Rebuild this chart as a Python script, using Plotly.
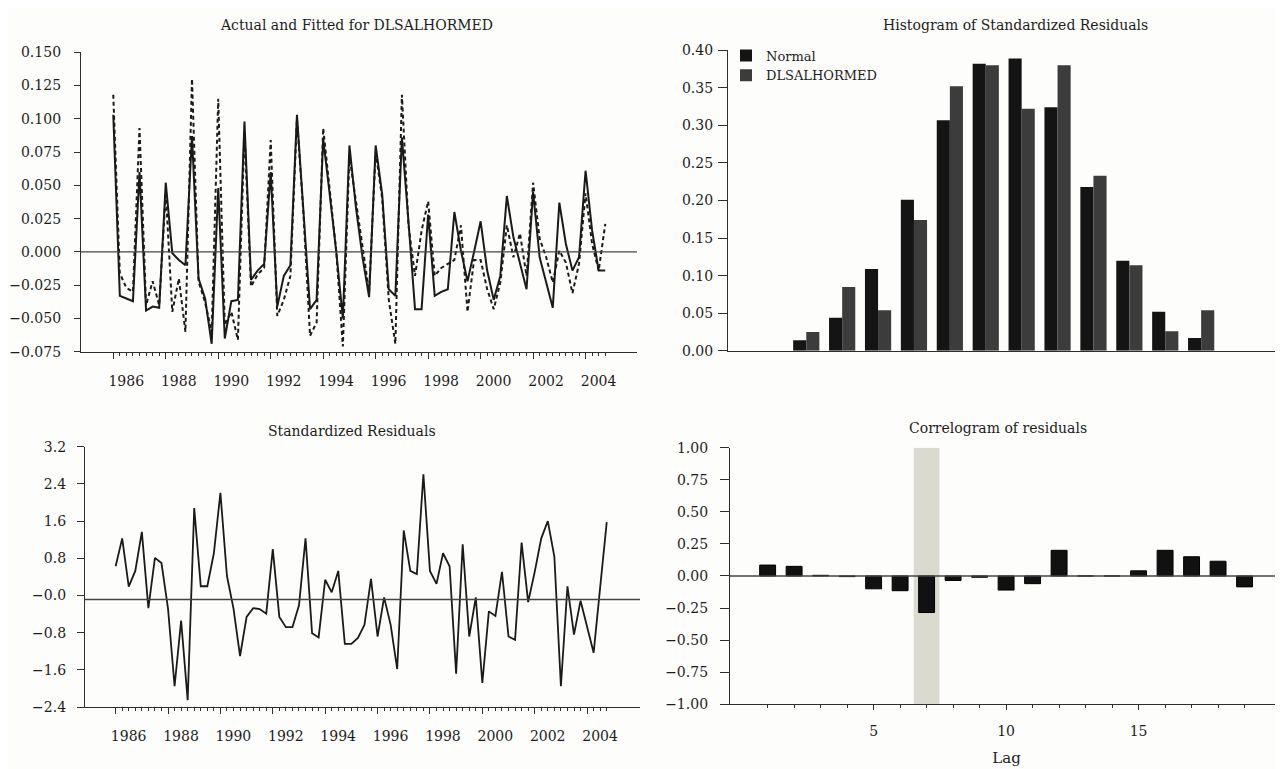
import plotly.graph_objects as go

# Browser viewport is 1283x769; the page body has an 8px default margin,
# so the figure is sized to fit exactly inside it.
VIEW_W, VIEW_H = 1283, 769
OFF = 8
W, H = VIEW_W - OFF, VIEW_H - OFF

# ---------------- data ----------------
start_year = 1986  # quarterly, 1986Q1 .. 2004Q4

actual = [0.103, -0.033, -0.035, -0.037, 0.060, -0.044, -0.041, -0.042,
          0.052, -0.001, -0.006, -0.010, 0.087, -0.020, -0.035, -0.069,
          0.048, -0.065, -0.037, -0.036, 0.098, -0.021, -0.014, -0.009,
          0.060, -0.041, -0.018, -0.010, 0.103, 0.030, -0.043, -0.036,
          0.085, 0.043, 0.000, -0.050, 0.080, 0.033, -0.004, -0.034,
          0.080, 0.043, -0.028, -0.033, 0.086, 0.023, -0.043, -0.043,
          0.028, -0.033, -0.030, -0.028, 0.030, 0.001, -0.022, 0.000,
          0.023, -0.014, -0.036, -0.018, 0.042, 0.011, -0.009, -0.028,
          0.045, -0.004, -0.023, -0.042, 0.037, 0.006, -0.014, -0.004,
          0.061, 0.016, -0.014, -0.014]

fitted = [0.118, -0.016, -0.027, -0.030, 0.093, -0.040, -0.022, -0.040,
          0.045, -0.045, -0.020, -0.060, 0.130, -0.022, -0.038, -0.060,
          0.115, -0.055, -0.045, -0.066, 0.090, -0.026, -0.017, -0.012,
          0.084, -0.048, -0.036, -0.018, 0.100, 0.028, -0.063, -0.053,
          0.093, 0.045, 0.000, -0.071, 0.072, 0.038, 0.002, -0.030,
          0.075, 0.040, -0.036, -0.069, 0.118, 0.020, -0.018, 0.016,
          0.038, -0.018, -0.012, -0.009, -0.006, 0.020, -0.045, -0.006,
          -0.006, -0.028, -0.043, -0.023, 0.020, -0.004, 0.014, -0.018,
          0.052, 0.010, -0.004, -0.023, 0.001, -0.008, -0.031, -0.009,
          0.044, 0.006, -0.014, 0.021]

std_resid = [0.63, 1.23, 0.19, 0.53, 1.37, -0.27, 0.81, 0.70, -0.28, -1.95,
             -0.54, -2.25, 1.88, 0.20, 0.20, 0.91, 2.21, 0.42, -0.28, -1.30,
             -0.46, -0.27, -0.29, -0.39, 1.00, -0.46, -0.68, -0.68, -0.21, 1.23,
             -0.81, -0.90, 0.34, 0.07, 0.53, -1.04, -1.04, -0.91, -0.63, 0.36,
             -0.88, -0.04, -0.63, -1.58, 1.40, 0.53, 0.46, 2.61, 0.53, 0.25,
             0.91, 0.63, -1.68, 1.10, -0.88, -0.04, -1.88, -0.34, -0.44, 0.51,
             -0.88, -0.95, 1.14, -0.14, 0.51, 1.23, 1.60, 0.84, -1.95, 0.20,
             -0.84, -0.11, -0.67, -1.23, 0.18, 1.58]
resid_ref_line = -0.085

hist_bins = list(range(1, 13))
hist_normal = [0.014, 0.044, 0.109, 0.201, 0.307, 0.382, 0.389, 0.324, 0.218, 0.120, 0.052, 0.017]
hist_resid = [0.025, 0.085, 0.054, 0.174, 0.352, 0.380, 0.322, 0.380, 0.233, 0.114, 0.026, 0.054]

lags = list(range(1, 20))
acf = [0.085, 0.075, 0.005, -0.005, -0.100, -0.115, -0.285, -0.035, -0.010, -0.110,
       -0.060, 0.200, 0.000, 0.000, 0.040, 0.200, 0.150, 0.115, -0.085]
highlight_lag = [7]

years_labeled = list(range(1986, 2005))
top_yticks = [-0.075, -0.050, -0.025, 0.000, 0.025, 0.050, 0.075, 0.100, 0.125, 0.150]
resid_yticks = [-2.4, -1.6, -0.8, 0.0, 0.8, 1.6, 2.4, 3.2]
hist_yticks = [0.00, 0.05, 0.10, 0.15, 0.20, 0.25, 0.30, 0.35, 0.40]
acf_yticks = [-1.00, -0.75, -0.50, -0.25, 0.00, 0.25, 0.50, 0.75, 1.00]

# ---------------- styling ----------------
FONT = "DejaVu Serif"
TXT = "#1c1c1c"
LINE = "#2e2e2e"
BG = "#fdfdfb"


def px_x(a, b):
    return [(a - OFF) / W, min(1.0, (b - OFF) / W)]


def px_y(top, bottom):
    return [1 - (bottom - OFF) / H, 1 - (top - OFF) / H]


def fmt(v, nd):
    s = f"{abs(v):.{nd}f}"
    return ("\u2212" + s) if v < 0 else s


quarters = [start_year + i * 0.25 for i in range(len(actual))]
year_text = [str(y) if y % 2 == 0 else "" for y in years_labeled]

fig = go.Figure()

# Actual and fitted
fig.add_trace(go.Scatter(x=quarters, y=actual, mode="lines", name="Actual",
                         line=dict(color="#1a1a1a", width=2), showlegend=False,
                         xaxis="x", yaxis="y"))
fig.add_trace(go.Scatter(x=quarters, y=fitted, mode="lines", name="Fitted",
                         line=dict(color="#1a1a1a", width=2, dash="4px,3px"),
                         showlegend=False, xaxis="x", yaxis="y"))

# Histogram
fig.add_trace(go.Bar(x=hist_bins, y=hist_normal, name="Normal",
                     marker=dict(color="#141414", line=dict(width=0)),
                     xaxis="x2", yaxis="y2"))
fig.add_trace(go.Bar(x=hist_bins, y=hist_resid, name="DLSALHORMED",
                     marker=dict(color="#3c3c3c", line=dict(width=0)),
                     xaxis="x2", yaxis="y2"))

# Standardized residuals
fig.add_trace(go.Scatter(x=quarters[:len(std_resid)], y=std_resid, mode="lines",
                         line=dict(color="#1a1a1a", width=1.8), showlegend=False,
                         xaxis="x3", yaxis="y3"))

# Correlogram
fig.add_trace(go.Bar(x=highlight_lag, y=[2.0], base=-1.0, width=0.97,
                     marker=dict(color="rgba(190,190,175,0.55)", line=dict(width=0)),
                     showlegend=False, offsetgroup="acf", xaxis="x4", yaxis="y4",
                     hoverinfo="skip"))
fig.add_trace(go.Bar(x=lags, y=acf, width=0.6,
                     marker=dict(color="#111111", line=dict(color="#000000", width=1)),
                     showlegend=False, offsetgroup="acf", xaxis="x4", yaxis="y4"))

axis_common = dict(showline=True, linecolor=LINE, linewidth=1.3, showgrid=False,
                   zeroline=False, ticks="outside", tickcolor=LINE, tickwidth=1.2,
                   tickfont=dict(family=FONT, size=14, color=TXT))

fig.update_layout(
    width=W, height=H, autosize=False,
    margin=dict(l=0, r=0, t=0, b=0),
    paper_bgcolor=BG, plot_bgcolor=BG,
    font=dict(family=FONT, color=TXT),
    barmode="group", bargap=0.27, bargroupgap=0.0,
    showlegend=True,
    legend=dict(x=(726 - OFF) / W, y=1 - (33 - OFF) / H, xanchor="left", yanchor="top",
                bgcolor="rgba(0,0,0,0)", font=dict(family=FONT, size=13, color=TXT),
                itemwidth=30, tracegroupgap=0, traceorder="normal"),
    xaxis=dict(axis_common, domain=px_x(81, 637), anchor="y",
               range=[1984.77, 2005.96], tickvals=years_labeled, ticktext=year_text,
               ticklen=6, ticklabelshift=13, ticklabelstandoff=10,
               minor=dict(tickvals=quarters, ticks="outside", ticklen=3,
                          tickcolor=LINE, tickwidth=1)),
    yaxis=dict(axis_common, domain=px_y(45, 351), anchor="x",
               range=[-0.075, 0.150], tickvals=top_yticks,
               ticktext=[fmt(v, 3) for v in top_yticks], ticklen=6,
               ticklabelstandoff=10),
    xaxis2=dict(axis_common, domain=px_x(728, 1283), anchor="y2",
                range=[-1.18, 14.28], showticklabels=False, ticks=""),
    yaxis2=dict(axis_common, domain=px_y(43, 350), anchor="x2",
                range=[0, 0.40], tickvals=hist_yticks,
                ticktext=[fmt(v, 2) for v in hist_yticks], ticklen=9,
                ticklabelstandoff=2),
    xaxis3=dict(axis_common, domain=px_x(85, 640), anchor="y3",
                range=[1984.83, 2006.02], tickvals=years_labeled, ticktext=year_text,
                ticklen=6, ticklabelshift=13, ticklabelstandoff=10,
                minor=dict(tickvals=quarters, ticks="outside", ticklen=3,
                           tickcolor=LINE, tickwidth=1)),
    yaxis3=dict(axis_common, domain=px_y(448, 714), anchor="x3",
                range=[-2.4, 3.2], tickvals=resid_yticks,
                ticktext=["\u22120.0" if v == 0 else fmt(v, 1) for v in resid_yticks],
                ticklen=7, ticklabelstandoff=8),
    xaxis4=dict(axis_common, domain=px_x(730, 1283), anchor="y4",
                range=[-0.42, 20.45], tickvals=[5, 10, 15], ticklen=5,
                ticklabelstandoff=9,
                minor=dict(tickvals=lags, ticks="outside", ticklen=3,
                           tickcolor=LINE, tickwidth=1),
                title=dict(text="Lag", standoff=14,
                           font=dict(family=FONT, size=15, color=TXT))),
    yaxis4=dict(axis_common, domain=px_y(449, 711), anchor="x4",
                range=[-1.0, 1.0], tickvals=acf_yticks,
                ticktext=[fmt(v, 2) for v in acf_yticks], ticklen=9,
                ticklabelstandoff=9),
)

# reference lines
fig.add_shape(type="line", xref="x domain", yref="y", x0=0, x1=1, y0=0, y1=0,
              line=dict(color="#444444", width=1.3))
fig.add_shape(type="line", xref="x3 domain", yref="y3", x0=0, x1=1,
              y0=resid_ref_line, y1=resid_ref_line, line=dict(color="#444444", width=1.3))
fig.add_shape(type="line", xref="x4 domain", yref="y4", x0=0, x1=1, y0=0, y1=0,
              line=dict(color="#444444", width=1.3))

titles = [
    ("Actual and Fitted for DLSALHORMED", 356, 17),
    ("Histogram of Standardized Residuals", 1016, 17),
    ("Standardized Residuals", 352, 432),
    ("Correlogram of residuals", 998, 429),
]
for text, cx, cy in titles:
    fig.add_annotation(text=text, xref="paper", yref="paper",
                       x=(cx - OFF) / W, y=1 - (cy - OFF) / H,
                       xanchor="center", yanchor="middle", showarrow=False,
                       font=dict(family=FONT, size=14, color=TXT))

fig.write_html("out.html")
